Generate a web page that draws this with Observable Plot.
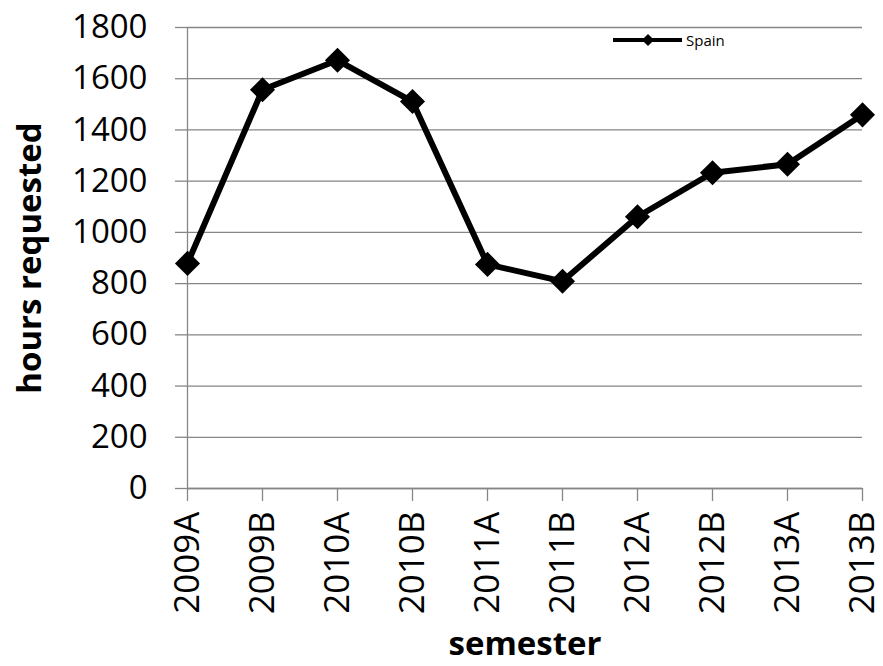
<!DOCTYPE html>
<html><head><meta charset="utf-8">
<script src="https://cdn.jsdelivr.net/npm/d3@7"></script>
<script src="https://cdn.jsdelivr.net/npm/@observablehq/plot@0.6"></script>
<style>
body{margin:0;background:#fff;}
#wrap{position:relative;width:883px;height:666px;font-family:"Open Sans",sans-serif;overflow:hidden;}
#legend{position:absolute;left:592px;top:30px;width:150px;height:22px;background:#fff;}
#legend svg{position:absolute;left:0;top:0;}
#legend span{position:absolute;left:94px;top:1px;font-size:15px;line-height:19px;color:#000;}
</style></head><body>
<div id="wrap"><div id="chart"></div>
<div id="legend"><svg width="95" height="22"><line x1="21" x2="90" y1="10" y2="10" stroke="#000" stroke-width="4"/><polygon points="56,4 62,10 56,16 50,10" fill="#000"/></svg><span>Spain</span></div>
</div>
<script>
const semesters = ["2009A","2009B","2010A","2010B","2011A","2011B","2012A","2012B","2013A","2013B"];
const hours = [879,1557,1672,1511,875,809,1061,1233,1266,1459];
const yTicks = [0,200,400,600,800,1000,1200,1400,1600,1800];
const yTitle = "hours requested";
const xTitle = "semester";
const seriesName = "Spain";

const data = semesters.map((s,i)=>({semester:s, hours:hours[i], series:seriesName}));
const axisGray = "#868686";

const chart = Plot.plot({
  width: 883, height: 666,
  marginLeft: 187, marginRight: 21, marginTop: 27, marginBottom: 178,
  style: {fontFamily: "Open Sans, sans-serif", background: "#fff", color: "#000", overflow: "visible"},
  x: {type: "point", domain: semesters, padding: 0, label: null},
  y: {domain: [0, 1800], label: null},
  marks: [
    Plot.gridY(yTicks, {stroke: axisGray, strokeOpacity: 1, strokeWidth: 1.3}),
    Plot.ruleX([semesters[0]], {y1: 0, y2: 1800, stroke: axisGray, strokeWidth: 1.3}),
    Plot.ruleY([0], {stroke: axisGray, strokeWidth: 1.3}),
    Plot.axisY(yTicks, {tickSize: 12, tickPadding: 28, fontSize: 33, stroke: axisGray, strokeWidth: 1.3, fill: "#000", label: null, tickFormat: d => String(d)}),
    Plot.axisX({tickSize: 13, tickPadding: 10, tickRotate: -90, fontSize: 35, stroke: axisGray, strokeWidth: 1.3, fill: "#000", label: null}),
    Plot.line(data, {x: "semester", y: "hours", stroke: "#000", strokeWidth: 6, strokeLinejoin: "round"}),
    Plot.dot(data, {x: "semester", y: "hours", symbol: "diamond2", r: 11.3, fill: "#000", stroke: "none"}),
    Plot.text([yTitle], {frameAnchor: "left", textAnchor: "middle", dx: -157, rotate: -90, fontSize: 33, fontWeight: "bold", fill: "#000"}),
    Plot.text([xTitle], {frameAnchor: "bottom", textAnchor: "middle", dy: 166, fontSize: 33, fontWeight: "bold", fill: "#000"})
  ]
});
document.getElementById("chart").appendChild(chart);
</script>
</body></html>
